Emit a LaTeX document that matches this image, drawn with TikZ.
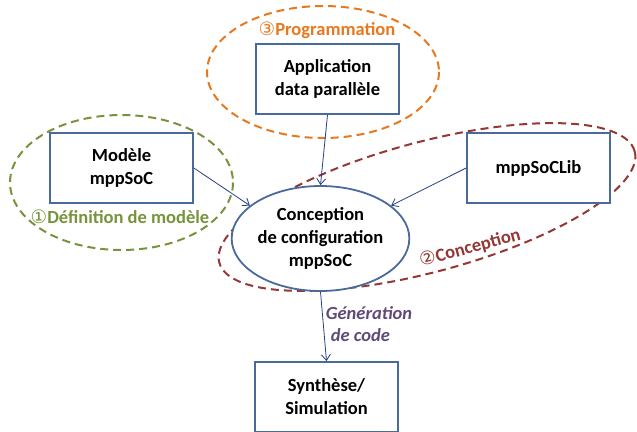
\documentclass[tikz,border=0pt]{standalone}
\usepackage{fontspec}
\setmainfont{Carlito}
\newfontfamily\symfont{DejaVu Sans}
\usetikzlibrary{shapes.geometric,arrows.meta}
\definecolor{boxblue}{HTML}{4A6A9A}
\definecolor{linkblue}{HTML}{243F86}
\definecolor{orangeC}{HTML}{E8781E}
\definecolor{greenC}{HTML}{77933C}
\definecolor{redC}{HTML}{953735}
\definecolor{purpleC}{HTML}{604A7B}
\tikzset{
  box/.style={draw=boxblue, line width=1.8pt, fill=white, minimum width=143pt, minimum height=70pt, align=center, font=\fontsize{18.5}{23}\selectfont\bfseries, inner sep=0pt},
  link/.style={draw=linkblue, line width=0.8pt, -{Straight Barb[length=6pt,width=9pt]}},
  group/.style={line width=2pt, dash pattern=on 8pt off 5pt},
  grouplabel/.style={font=\fontsize{18.5}{22}\selectfont\bfseries, inner sep=0pt}
}
\begin{document}
\begin{tikzpicture}[x=1pt,y=-1pt]
\useasboundingbox (0,0) rectangle (637,431);
\clip (0,0) rectangle (637,431);
% dashed groups
\draw[group, draw=orangeC] (323,72) ellipse [x radius=116, y radius=66];
\draw[group, draw=greenC] (121.5,182.5) ellipse [x radius=111.5, y radius=67.5];
\draw[group, draw=redC, rotate around={15:(427,207)}] (427,207) ellipse [x radius=215, y radius=65];
% nodes
\node[box] (app) at (327.5,79) {Application\\data parallèle};
\node[box] (modele) at (121.5,168) {Modèle\\mppSoC};
\node[box] (lib) at (538.5,168) {mppSoCLib};
\node[draw=boxblue, line width=1.8pt, fill=white, ellipse, minimum width=165pt, minimum height=105pt, inner sep=0pt, align=center, font=\fontsize{18.5}{23}\selectfont\bfseries] (concept) at (320.5,238.5) {Conception\\de configuration\\mppSoC};
\node[box] (synth) at (326.5,397) {Synthèse/\\Simulation};
% labels
\node[grouplabel, text=orangeC] (lprog) at (327,30) {{\symfont\mdseries ③}Programmation};
\node[grouplabel, text=greenC] (ldef) at (120,217) {{\symfont\mdseries ①}Définition de modèle};
\node[grouplabel, text=redC, rotate=15] (lconc) at (470,248) {{\symfont\mdseries ②}Conception};
\node[font=\fontsize{18.5}{22}\selectfont\bfseries\itshape, text=purpleC, align=left, inner sep=0pt] (lgen) at (369,324) {Génération\\\hspace*{5pt}de code};
% connectors
\draw[link] (app.south) -- (concept.north);
\draw[link] (modele.east) -- (concept.155);
\draw[link] (lib.west) -- (concept.25);
\draw[link] (concept.south) -- (synth.north);
\end{tikzpicture}
\end{document}
